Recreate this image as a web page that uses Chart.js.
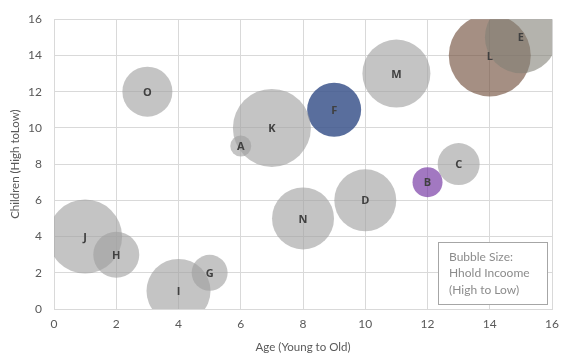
<!DOCTYPE html>
<html><head><meta charset="utf-8">
<script src="https://cdn.jsdelivr.net/npm/chart.js@4/dist/chart.umd.min.js"></script>
<style>html,body{margin:0;padding:0;background:#fff}#wrap{width:567px;height:354px}</style>
</head><body><div id="wrap"><canvas id="c" width="567" height="354"></canvas></div>
<script>
const labels = ["A","B","C","D","L","E","F","G","H","I","J","K","M","N","O"];
const ages = [6,12,13,10,14,15,9,5,2,4,1,7,11,8,3];
const children = [9,7,8,6,14,15,11,2,3,1,4,10,13,5,12];
const bubbleSize = [10.5,15,21,31,41,36,27,18,23,32,37,39,34,31,25];
const xTicks = [0,2,4,6,8,10,12,14,16];
const yTicks = [0,2,4,6,8,10,12,14,16];
const legendLines = ["Bubble Size:","Hhold Incoome","(High to Low)"];

const gray = "rgba(160,160,160,0.62)";
const colorFor = {F:"rgba(60,85,140,0.85)", B:"rgba(112,48,160,0.65)", L:"rgba(110,75,55,0.62)", E:"rgba(130,128,118,0.6)"};
const colors = labels.map(l => colorFor[l] || gray);

const points = labels.map((l,i)=>({x:ages[i], y:children[i], r:bubbleSize[i]}));

const labelPlugin = {
  id:"lbl",
  afterDatasetsDraw(chart){
    const ctx = chart.ctx;
    const meta = chart.getDatasetMeta(0);
    ctx.save();
    ctx.font = "bold 11px 'Open Sans', sans-serif";
    ctx.fillStyle = "#404040";
    ctx.textAlign = "center"; ctx.textBaseline = "middle";
    meta.data.forEach((el,i)=>{ ctx.fillText(labels[i], el.x, el.y+1); });
    const x0 = 438, y0 = 242, w = 109, h = 62;
    ctx.fillStyle = "#fff"; ctx.fillRect(x0,y0,w,h);
    ctx.strokeStyle = "#a6a6a6"; ctx.lineWidth = 1;
    ctx.strokeRect(x0+0.5,y0+0.5,w,h);
    ctx.fillStyle = "#8c8c8c"; ctx.font = "12px Lato, sans-serif";
    ctx.textAlign = "left";
    legendLines.forEach((t,i)=>ctx.fillText(t, x0+11, y0+15+i*16.5));
    ctx.restore();
  }
};

new Chart(document.getElementById("c"), {
  type:"bubble",
  data:{datasets:[{data:points, backgroundColor:colors, borderWidth:0, hoverBorderWidth:0, clip:0}]},
  options:{
    responsive:false, animation:false, events:[],
    layout:{autoPadding:false, padding:{top:17,right:14,left:8,bottom:0}},
    plugins:{legend:{display:false}, tooltip:{enabled:false}},
    scales:{
      x:{type:"linear", min:0, max:16,
        afterBuildTicks(s){ s.ticks = xTicks.map(v=>({value:v})); },
        afterFit(s){ s.height = 45; },
        grid:{color:"#d9d9d9", lineWidth:1, drawTicks:false},
        border:{color:"#d9d9d9"},
        ticks:{color:"#595959", font:{family:"Lato", size:12}, padding:8},
        title:{display:true, text:"Age (Young to Old)", color:"#595959", font:{family:"Lato", size:11.5}, padding:{top:4,bottom:0}}
      },
      y:{type:"linear", min:0, max:16,
        afterBuildTicks(s){ s.ticks = yTicks.map(v=>({value:v})); },
        afterFit(s){ s.width = 46; },
        grid:{color:"#d9d9d9", lineWidth:1, drawTicks:false},
        border:{color:"#d9d9d9"},
        ticks:{color:"#595959", font:{family:"Lato", size:12}, padding:12},
        title:{display:true, text:"Children (High toLow)", color:"#595959", font:{family:"Lato", size:11.5}, padding:{top:0,bottom:4}}
      }
    }
  },
  plugins:[labelPlugin]
});
</script></body></html>
